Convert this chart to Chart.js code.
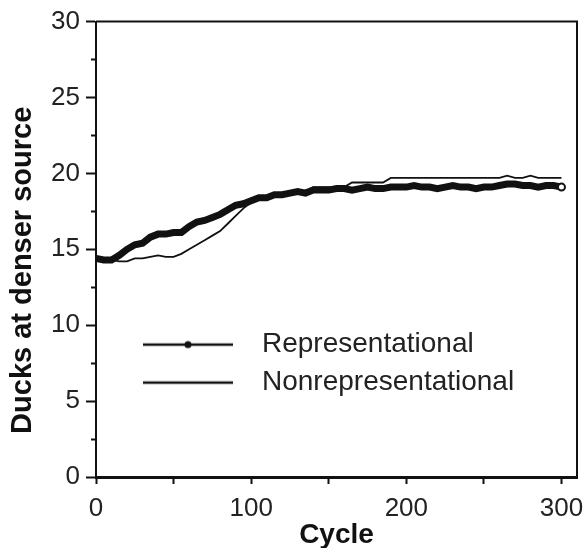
<!DOCTYPE html>
<html>
<head>
<meta charset="utf-8">
<script src="https://cdn.jsdelivr.net/npm/chart.js@4/dist/chart.umd.min.js"></script>
<style>
  html, body { margin: 0; padding: 0; background: #fff; }
</style>
</head>
<body>
<canvas id="ducksChart" width="587" height="548"></canvas>
<script>
// Data (cycle every 5)
const cycles = [0, 5, 10, 15, 20, 25, 30, 35, 40, 45, 50, 55, 60, 65, 70, 75, 80, 85, 90, 95,
  100, 105, 110, 115, 120, 125, 130, 135, 140, 145, 150, 155, 160, 165, 170, 175, 180, 185, 190, 195,
  200, 205, 210, 215, 220, 225, 230, 235, 240, 245, 250, 255, 260, 265, 270, 275, 280, 285, 290, 295, 300];

const representational = [14.4, 14.3, 14.3, 14.6, 15.0, 15.3, 15.4, 15.8, 16.0, 16.0, 16.1, 16.1, 16.5, 16.8, 16.9, 17.1, 17.3, 17.6, 17.9, 18.0,
  18.2, 18.4, 18.4, 18.6, 18.6, 18.7, 18.8, 18.7, 18.9, 18.9, 18.9, 19.0, 19.0, 18.9, 19.0, 19.1, 19.0, 19.0, 19.1, 19.1,
  19.1, 19.2, 19.1, 19.1, 19.0, 19.1, 19.2, 19.1, 19.1, 19.0, 19.1, 19.1, 19.2, 19.3, 19.3, 19.2, 19.2, 19.1, 19.2, 19.2, 19.1];

const nonrepresentational = [14.4, 14.3, 14.3, 14.2, 14.2, 14.4, 14.4, 14.5, 14.6, 14.5, 14.5, 14.7, 15.0, 15.3, 15.6, 15.9, 16.2, 16.7, 17.2, 17.7,
  18.1, 18.3, 18.4, 18.6, 18.6, 18.7, 18.8, 18.8, 19.1, 19.1, 19.1, 19.1, 19.1, 19.4, 19.4, 19.4, 19.4, 19.4, 19.7, 19.7,
  19.7, 19.7, 19.7, 19.7, 19.7, 19.7, 19.7, 19.7, 19.7, 19.7, 19.7, 19.7, 19.7, 19.85, 19.7, 19.7, 19.85, 19.7, 19.7, 19.7, 19.7];

const seriesNames = ['Representational', 'Nonrepresentational'];
const xLabel = 'Cycle';
const yLabel = 'Ducks at denser source';

Chart.defaults.font.family = '"Liberation Sans", Arial, Helvetica, sans-serif';
Chart.defaults.color = '#222';

function toPoints(values) {
  return values.map((v, i) => ({ x: cycles[i], y: v }));
}

// legend mark: a line, optionally with a dot in the middle
function legendMark(withDot) {
  const c = document.createElement('canvas');
  c.width = 105;
  c.height = 12;
  const g = c.getContext('2d');
  g.strokeStyle = '#111';
  g.lineWidth = 2.5;
  g.beginPath();
  g.moveTo(0, 6);
  g.lineTo(90, 6);
  g.stroke();
  if (withDot) {
    g.fillStyle = '#111';
    g.beginPath();
    g.arc(45, 6, 3.5, 0, Math.PI * 2);
    g.fill();
  }
  return c;
}
const legendMarks = [legendMark(true), legendMark(false)];

// top and right edges of the box
const frame = {
  id: 'frame',
  beforeDatasetsDraw(chart) {
    const { ctx, chartArea: a } = chart;
    ctx.save();
    ctx.strokeStyle = '#111';
    ctx.lineWidth = 2;
    ctx.beginPath();
    ctx.moveTo(a.left, a.top);
    ctx.lineTo(a.right, a.top);
    ctx.lineTo(a.right, a.bottom);
    ctx.stroke();
    ctx.restore();
  }
};

// put the legend inside the plot, lower left
const placeLegend = {
  id: 'placeLegend',
  afterLayout(chart) {
    const a = chart.chartArea;
    chart.legend.left = a.left + 37;
    chart.legend.top = a.top + 299;
  }
};

// y axis title, sits a bit below the middle of the axis
const yTitle = {
  id: 'yTitle',
  afterDraw(chart) {
    const { ctx, chartArea: a } = chart;
    ctx.save();
    ctx.translate(23, (a.top + a.bottom) / 2 + 21);
    ctx.rotate(-Math.PI / 2);
    ctx.font = 'bold 29px "Liberation Sans", Arial, sans-serif';
    ctx.fillStyle = '#111';
    ctx.textAlign = 'center';
    ctx.textBaseline = 'middle';
    ctx.fillText(yLabel, 0, 0);
    ctx.restore();
  }
};

const ctx = document.getElementById('ducksChart').getContext('2d');
const ducksChart = new Chart(ctx, {
  type: 'line',
  data: {
    datasets: [{
      label: seriesNames[0],
      data: toPoints(representational),
      borderColor: '#111',
      borderWidth: 7,
      pointRadius: c => c.dataIndex === cycles.length - 1 ? 3.5 : 0,
      pointBackgroundColor: '#fff',
      pointBorderColor: '#111',
      pointBorderWidth: 2,
      tension: 0,
      fill: false
    }, {
      label: seriesNames[1],
      data: toPoints(nonrepresentational),
      borderColor: '#111',
      borderWidth: 1.8,
      pointRadius: 0,
      tension: 0,
      fill: false
    }]
  },
  options: {
    responsive: false,
    animation: false,
    layout: { padding: { top: 18, right: 10, left: 0, bottom: 0 } },
    scales: {
      x: {
        type: 'linear',
        min: 0,
        max: 310,
        afterFit: s => {
          s.height = 71;
          s.paddingLeft = 0;
          s.paddingRight = 0;
        },
        ticks: {
          stepSize: 50,
          includeBounds: false,
          autoSkip: false,
          maxRotation: 0,
          padding: 9,
          color: '#222',
          font: { size: 26 },
          callback: v => v % 100 === 0 ? v : ''
        },
        grid: { drawOnChartArea: false, tickLength: 7, tickWidth: 2, tickColor: '#111' },
        border: { color: '#111', width: 3 },
        title: {
          display: true,
          text: xLabel,
          color: '#111',
          font: { size: 28, weight: 'bold', lineHeight: 0.9 },
          padding: 0
        }
      },
      y: {
        min: 0,
        max: 30,
        afterFit: s => { s.width = 96; },
        ticks: {
          stepSize: 2.5,
          autoSkip: false,
          padding: 6,
          color: '#222',
          font: { size: 26 },
          callback: v => v % 5 === 0 ? v : ''
        },
        grid: {
          drawOnChartArea: false,
          tickLength: 10,
          tickWidth: 2,
          tickColor: '#111',
          tickBorderDash: c => c.tick && c.tick.value % 5 === 0 ? [] : [0, 5, 5, 0]
        },
        border: { color: '#111', width: 2 }
      }
    },
    plugins: {
      legend: {
        position: 'chartArea',
        align: 'start',
        labels: {
          usePointStyle: true,
          pointStyleWidth: 105,
          padding: 10,
          color: '#222',
          font: { size: 28 },
          generateLabels: chart => chart.data.datasets.map((ds, i) => ({
            text: ds.label,
            pointStyle: legendMarks[i],
            datasetIndex: i,
            hidden: false,
            fontColor: '#222',
            fillStyle: '#111',
            strokeStyle: '#111',
            lineWidth: 0
          }))
        }
      },
      tooltip: { enabled: false }
    }
  },
  plugins: [frame, placeLegend, yTitle]
});
</script>
</body>
</html>
